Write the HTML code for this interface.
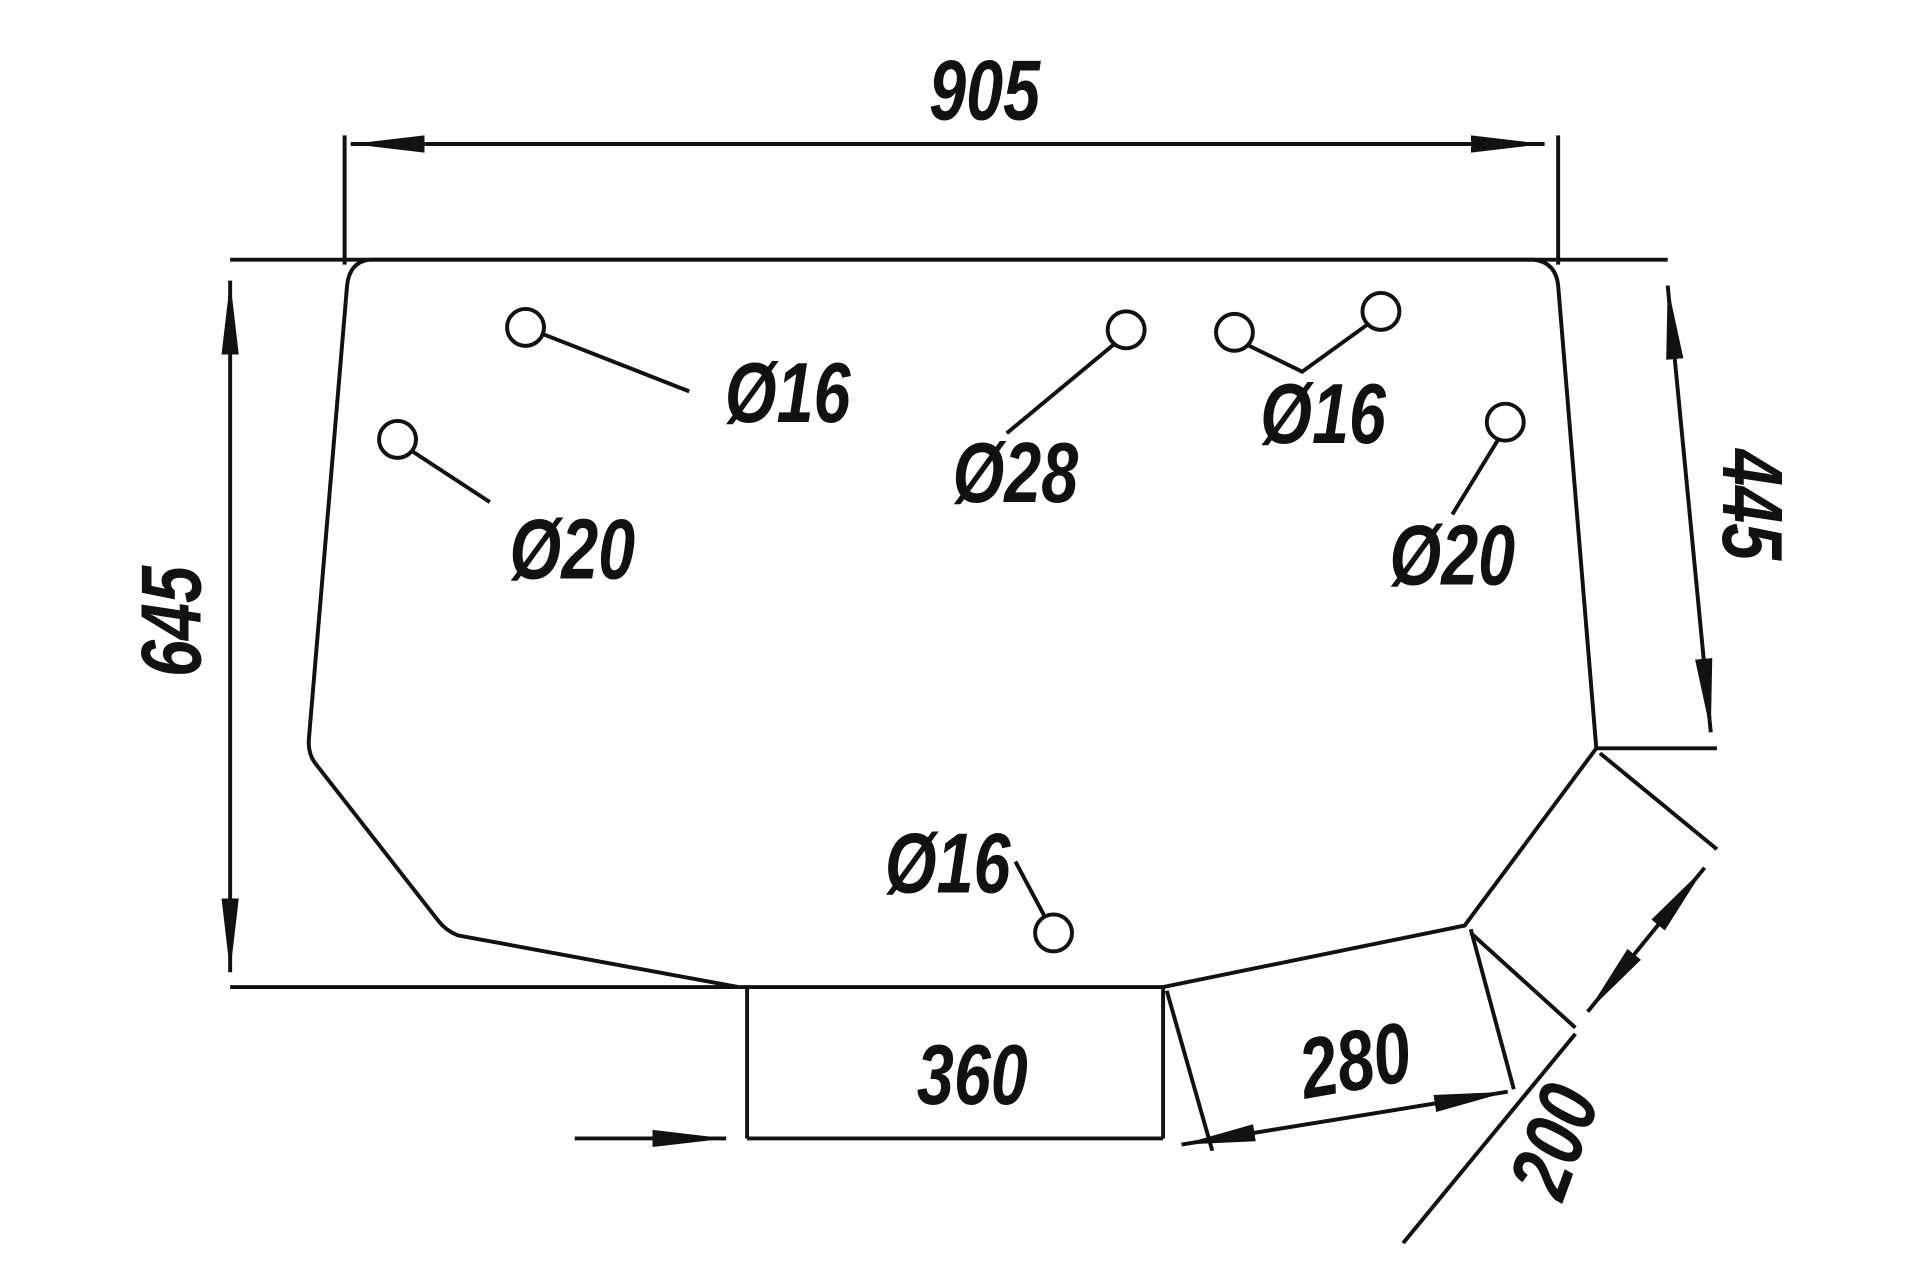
<!DOCTYPE html>
<html><head><style>
html,body{margin:0;padding:0;background:#fff;}
svg{display:block;}
text{font-family:"Liberation Sans",sans-serif;font-style:italic;font-weight:bold;fill:#111;font-size:60px;text-anchor:middle;}
</style></head><body>
<svg width="1920" height="1280" viewBox="0 0 1560 1040" preserveAspectRatio="none">
<defs>
<marker id="a" viewBox="0 0 60 20" refX="60" refY="10" markerWidth="60" markerHeight="20" markerUnits="userSpaceOnUse" orient="auto">
<path d="M0,3 L60,10 L0,17 Z" fill="#111"/>
</marker>
<marker id="b" viewBox="0 0 60 20" refX="0" refY="10" markerWidth="60" markerHeight="20" markerUnits="userSpaceOnUse" orient="auto">
<path d="M60,3 L0,10 L60,17 Z" fill="#111"/>
</marker>
</defs>
<g stroke="#111" stroke-width="3.2" fill="none">
<path d="M300,211 L1246,211 Q1264,213 1266,232 L1297,608 L1190,752 L945,802 L600,802 L372,760 Q362,756 356,748 L256,620 Q250,612 251,600 L282,232 Q284,213 300,211 Z"/>
<line x1="187" y1="211" x2="1355" y2="211"/>
<line x1="280" y1="110" x2="280" y2="215"/>
<line x1="1266" y1="110" x2="1266" y2="215"/>
<line x1="187" y1="802" x2="600" y2="802"/>
<line x1="1297" y1="608" x2="1395" y2="608"/>
<line x1="607" y1="802" x2="607" y2="925"/>
<line x1="945" y1="802" x2="945" y2="925"/>
<line x1="607" y1="925" x2="945" y2="925"/>
<line x1="948" y1="805" x2="985" y2="935"/>
<line x1="1195" y1="755" x2="1230" y2="885"/>
<line x1="1300" y1="612" x2="1395" y2="690"/>
<line x1="1195" y1="758" x2="1280" y2="835"/>
<line x1="1280" y1="840" x2="1140" y2="1010"/>
<line x1="285" y1="117" x2="1255" y2="117" marker-start="url(#b)" marker-end="url(#a)"/>
<line x1="187" y1="228" x2="187" y2="790" marker-start="url(#b)" marker-end="url(#a)"/>
<line x1="1355" y1="232" x2="1390" y2="595" marker-start="url(#b)" marker-end="url(#a)"/>
<line x1="467" y1="925" x2="590" y2="925" marker-end="url(#a)"/>
<line x1="960" y1="930" x2="1225" y2="887" marker-start="url(#b)" marker-end="url(#a)"/>
<line x1="1290" y1="822" x2="1385" y2="705" marker-start="url(#b)" marker-end="url(#a)"/>
<circle cx="427" cy="266" r="15"/><circle cx="915" cy="268" r="15"/>
<circle cx="1003" cy="270" r="15"/><circle cx="1122" cy="253" r="15"/>
<circle cx="1223" cy="343" r="15"/><circle cx="323" cy="357" r="15"/>
<circle cx="856" cy="758" r="15"/>
<line x1="440" y1="271" x2="560" y2="318"/>
<line x1="334" y1="366" x2="398" y2="408"/>
<line x1="906" y1="279" x2="818" y2="352"/>
<polyline points="1013,280 1058,302 1112,263"/>
<line x1="1218" y1="356" x2="1180" y2="418"/>
<line x1="849" y1="745" x2="825" y2="700"/>
</g>
<g transform="translate(800,97) scale(0.9,1.15)"><text>905</text></g>
<g transform="translate(640,343) scale(0.9,1.15)"><text>Ø16</text></g>
<g transform="translate(465,470) scale(0.9,1.15)"><text>Ø20</text></g>
<g transform="translate(825,408) scale(0.9,1.15)"><text>Ø28</text></g>
<g transform="translate(1075,360) scale(0.9,1.15)"><text>Ø16</text></g>
<g transform="translate(1180,475) scale(0.9,1.15)"><text>Ø20</text></g>
<g transform="translate(770,725) scale(0.9,1.15)"><text>Ø16</text></g>
<g transform="translate(790,897) scale(0.9,1.15)"><text>360</text></g>
<g transform="translate(1105,885) rotate(-10) scale(0.9,1.15)"><text>280</text></g>
<g transform="translate(1285,935) rotate(-70) scale(0.9,1.15)"><text>200</text></g>
<g transform="translate(163,505) rotate(-90) scale(0.9,1.15)"><text>645</text></g>
<g transform="translate(1400,410) rotate(90) scale(0.9,1.15)"><text>445</text></g>
</svg>
</body></html>
